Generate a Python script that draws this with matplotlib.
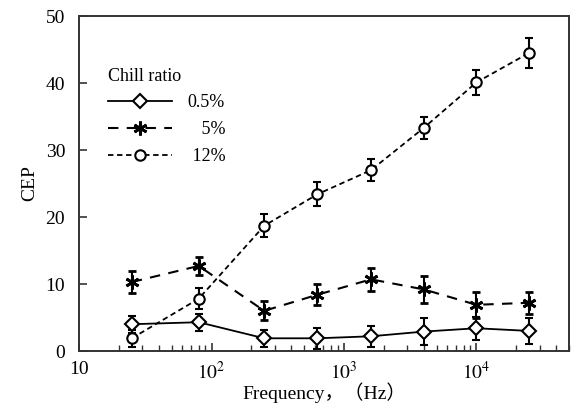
import numpy as np
import matplotlib
matplotlib.use("Agg")
import matplotlib.pyplot as plt
from matplotlib.lines import Line2D

plt.rcParams['font.family'] = ['Liberation Serif', 'Noto Sans CJK SC']
plt.rcParams['mathtext.fontset'] = 'stix'

# frequencies (Hz)
freq = [25, 80, 250, 630, 1600, 4000, 10000, 25000]

# CEP values and error for each chill ratio
cep_05 = [4.0, 4.3, 1.9, 1.9, 2.2, 2.9, 3.4, 3.0]
err_05 = [1.3, 1.3, 1.25, 1.6, 1.6, 2.0, 1.7, 2.0]
cep_5 = [10.3, 12.7, 6.0, 8.4, 10.7, 9.2, 6.9, 7.2]
err_5 = [1.6, 1.3, 1.4, 1.6, 1.7, 2.0, 1.9, 1.6]
cep_12 = [1.9, 7.8, 18.7, 23.4, 27.0, 33.3, 40.1, 44.5]
err_12 = [1.3, 1.6, 1.7, 1.8, 1.6, 1.7, 1.9, 2.2]

labels = ['0.5%', '   5%', ' 12%']

fig = plt.figure(figsize=(5.73, 4.12), dpi=100)
ax = fig.add_axes([0.138, 0.148, 0.855, 0.813])

star = (6, 2, 0)
styles = [
    dict(linestyle='-', lw=1.3, marker='D', markersize=7.5, mfc='white', mew=1.5),
    dict(linestyle=(0, (5, 4)), lw=1.5, marker=star, markersize=10, mew=2),
    dict(linestyle=(0, (3, 2)), lw=1.3, marker='o', markersize=7.5, mfc='white', mew=1.5),
]
series = [(cep_05, err_05), (cep_5, err_5), (cep_12, err_12)]

handles = []
for (y, e), st in zip(series, styles):
    ax.errorbar(freq, y, yerr=e, color='black', mec='black',
                elinewidth=1.5, capsize=3, capthick=2, **st)
    handles.append(Line2D([], [], color='black', mec='black', **st))

ax.set_xscale('log')
ax.set_xlim(10, 50000)
ax.set_ylim(0, 50)
ax.set_yticks([0, 10, 20, 30, 40, 50])
ax.set_xticks([10, 100, 1000, 10000])
ax.set_xticklabels(['10', r'$10^2$', r'$10^3$', r'$10^4$'])
ax.tick_params(which='both', direction='in', labelsize=14, color='#333333')
ax.tick_params(which='major', length=6, width=1.2)
ax.tick_params(which='minor', length=4, width=1)
ax.tick_params(axis='y', pad=10)
ax.tick_params(axis='x', pad=7)
for s in ax.spines.values():
    s.set_linewidth(1.4)
    s.set_color('#333333')

ax.set_xlabel('Frequency，（Hz）', fontsize=14, labelpad=0)
ax.set_ylabel('CEP', fontsize=14, labelpad=5)

# legend
ax.legend(handles, labels, title='Chill ratio', frameon=False, fontsize=13,
          title_fontsize=13, loc='upper left', bbox_to_anchor=(0.045, 0.868),
          borderpad=0.4, borderaxespad=0, handlelength=3.5, handletextpad=0.9,
          alignment='left', labelspacing=0.55)

plt.savefig('out.png', dpi=100)
